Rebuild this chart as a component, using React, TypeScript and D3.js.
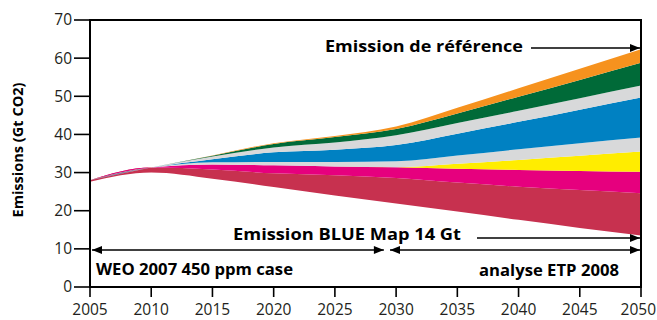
import React from "react";
import * as d3 from "d3";

const years = [2005, 2010, 2015, 2020, 2025, 2030, 2035, 2040, 2045, 2050];
const blueMap = [27.6, 30.0, 28.4, 26.2, 24.0, 21.9, 19.8, 17.6, 15.5, 13.5];
const crimson = [0.4, 1.3, 2.4, 3.6, 5.3, 6.7, 7.6, 8.7, 9.9, 11.1];
const magenta = [0, 0, 1.3, 2.1, 2.3, 2.8, 3.6, 4.4, 5.0, 5.6];
const yellow = [0, 0, 0, 0, 0, 0, 1.3, 2.6, 4.0, 5.3];
const grayLow = [0, 0, 0.6, 0.9, 1.2, 1.6, 2.2, 2.8, 3.3, 3.7];
const blue = [0, 0, 0.8, 2.5, 3.2, 4.2, 5.7, 7.2, 8.8, 10.5];
const grayHigh = [0, 0, 0.7, 1.3, 1.9, 2.6, 2.8, 2.9, 3.0, 3.1];
const green = [0, 0, 0.2, 0.9, 1.4, 1.6, 2.5, 3.7, 4.8, 6.0];
const orange = [0, 0, 0.1, 0.2, 0.3, 0.7, 1.5, 2.2, 2.9, 3.5];

const xTicks = [2005, 2010, 2015, 2020, 2025, 2030, 2035, 2040, 2045, 2050];
const yTicks = [0, 10, 20, 30, 40, 50, 60, 70];

const keys = ["base", "crimson", "magenta", "yellow", "grayLow", "blue", "grayHigh", "green", "orange"];
const colors: Record<string, string> = {
  crimson: "#C7314F",
  magenta: "#E6007E",
  yellow: "#FFED00",
  grayLow: "#D8D9DA",
  blue: "#0081C2",
  grayHigh: "#D8D9DA",
  green: "#006A38",
  orange: "#F6921E",
};

const W = 657, H = 320;
const x0 = 90, x1 = 641, yTop = 20, yBot = 287;

export default function App() {
  const x = d3.scaleLinear().domain([2005, 2050]).range([x0, x1]);
  const y = d3.scaleLinear().domain([0, 70]).range([yBot, yTop]);
  const rows = years.map((yr, i) => ({
    year: yr,
    base: blueMap[i],
    crimson: crimson[i],
    magenta: magenta[i],
    yellow: yellow[i],
    grayLow: grayLow[i],
    blue: blue[i],
    grayHigh: grayHigh[i],
    green: green[i],
    orange: orange[i],
  }));
  const stacked = d3.stack<any>().keys(keys)(rows);
  const area = d3
    .area<any>()
    .x((d) => x(d.data.year))
    .y0((d) => y(d[0]))
    .y1((d) => y(d[1]))
    .curve(d3.curveMonotoneX);

  const font = "'Open Sans', sans-serif";
  const bold = { fontFamily: font, fontWeight: 700, fontSize: 16.5, fill: "#000" } as const;
  return (
    <svg width={W} height={H} style={{ position: "absolute", left: 0, top: 0 }}>
      <defs>
        <marker id="ah" viewBox="0 0 10 8" refX="10" refY="4" markerWidth="11" markerHeight="8" markerUnits="userSpaceOnUse" orient="auto-start-reverse">
          <path d="M0,0 L10,4 L0,8 Z" fill="#000" />
        </marker>
      </defs>
      <rect width={W} height={H} fill="#fff" />
      {stacked
        .filter((s) => s.key !== "base")
        .map((s) => (
          <path key={s.key} d={area(s) || ""} fill={colors[s.key]} />
        ))}
      {/* frame */}
      <path d={`M${x0},${yBot} L${x0},${yTop} L${x1},${yTop} L${x1},${yBot} Z`} fill="none" stroke="#000" strokeWidth={2} />
      {yTicks.map((t) => (
        <g key={t}>
          <line x1={x0 - 16} x2={x0} y1={y(t)} y2={y(t)} stroke="#000" strokeWidth={1.6} />
          <text x={x0 - 18} y={y(t)} dy="0.35em" textAnchor="end" fontFamily={font} fontSize={15.5} fill="#231f20">
            {t}
          </text>
        </g>
      ))}
      {xTicks.map((t, i) => {
        const last = i === xTicks.length - 1;
        return (
          <g key={t}>
            <line x1={x(t)} x2={x(t)} y1={yBot} y2={yBot + 10} stroke="#000" strokeWidth={1.6} />
            <text
              x={last ? W - 1 : x(t)}
              y={315}
              textAnchor={last ? "end" : "middle"}
              fontFamily={font}
              fontSize={15.5}
              fill="#231f20"
            >
              {t}
            </text>
          </g>
        );
      })}
      <text transform={`translate(23,150) rotate(-90)`} textAnchor="middle" fontFamily={font} fontWeight={700} fontSize={14} fill="#000" textLength={135} lengthAdjust="spacingAndGlyphs">
        Emissions (Gt CO2)
      </text>
      {/* Reference annotation */}
      <text x={325} y={52} {...bold} textLength={198} lengthAdjust="spacingAndGlyphs">
        Emission de référence
      </text>
      <line x1={531} x2={x(2050) - 1} y1={48} y2={48} stroke="#000" strokeWidth={1.5} markerEnd="url(#ah)" />
      {/* BLUE Map annotation */}
      <text x={233} y={240} {...bold} textLength={228} lengthAdjust="spacingAndGlyphs">
        Emission BLUE Map 14 Gt
      </text>
      <line x1={477} x2={x(2050) - 1} y1={238} y2={238} stroke="#000" strokeWidth={1.5} markerEnd="url(#ah)" />
      {/* periods */}
      <line x1={x(2005) + 2} x2={x(2029)} y1={250} y2={250} stroke="#000" strokeWidth={1.5} markerStart="url(#ah)" markerEnd="url(#ah)" />
      <line x1={x(2029.5)} x2={x(2050) - 1} y1={250} y2={250} stroke="#000" strokeWidth={1.5} markerStart="url(#ah)" markerEnd="url(#ah)" />
      <text x={96} y={275} {...bold} textLength={197} lengthAdjust="spacingAndGlyphs">
        WEO 2007 450 ppm case
      </text>
      <text x={479} y={276} {...bold} textLength={140} lengthAdjust="spacingAndGlyphs">
        analyse ETP 2008
      </text>
    </svg>
  );
}
